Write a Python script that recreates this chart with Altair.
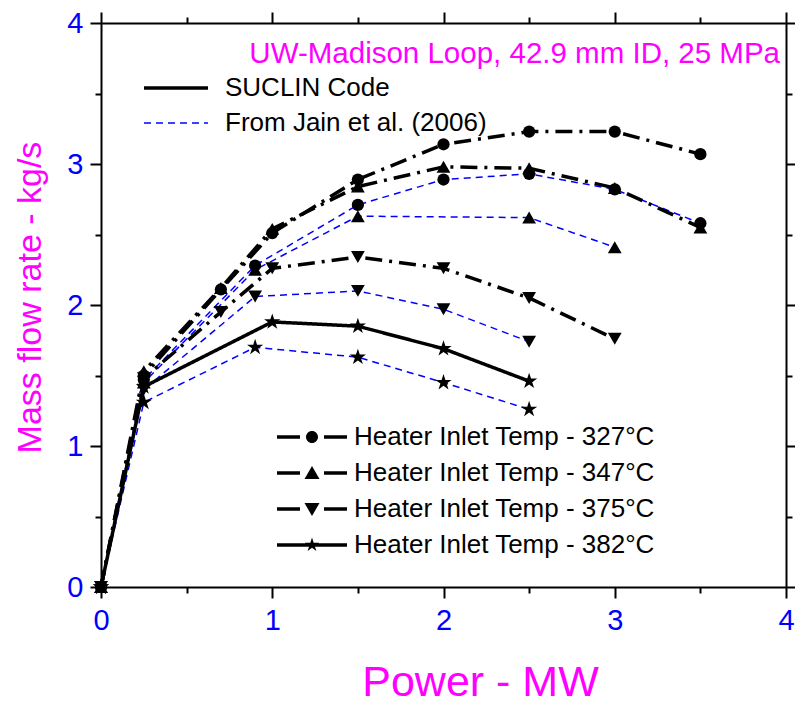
import altair as alt
import pandas as pd

FONT = "Liberation Sans"
MAGENTA = "#FF00FF"
BLUE = "#0000FF"

SRC_SUCLIN = "SUCLIN Code"
SRC_JAIN = "From Jain et al. (2006)"
sources = [SRC_SUCLIN, SRC_JAIN]

annotation = ["UW-Madison Loop, 42.9 mm ID, 25 MPa"]

temp_labels = [
    "Heater Inlet Temp - 327°C",
    "Heater Inlet Temp - 347°C",
    "Heater Inlet Temp - 375°C",
    "Heater Inlet Temp - 382°C",
]

# ---- SUCLIN code (black) ----
suclin_327_power = [0, 0.25, 0.7, 1.0, 1.5, 2.0, 2.5, 3.0, 3.5]
suclin_327_flow = [0, 1.50, 2.11, 2.51, 2.89, 3.14, 3.23, 3.23, 3.07]
suclin_347_power = [0, 0.25, 0.7, 1.0, 1.5, 2.0, 2.5, 3.0, 3.5]
suclin_347_flow = [0, 1.53, 2.12, 2.54, 2.84, 2.98, 2.97, 2.83, 2.55]
suclin_375_power = [0, 0.25, 0.7, 1.0, 1.5, 2.0, 2.5, 3.0]
suclin_375_flow = [0, 1.48, 1.95, 2.26, 2.34, 2.26, 2.05, 1.76]
suclin_382_power = [0, 0.25, 1.0, 1.5, 2.0, 2.5]
suclin_382_flow = [0, 1.42, 1.88, 1.85, 1.69, 1.46]

# ---- Jain et al. (2006) (blue dashed) ----
jain_327_power = [0, 0.25, 0.9, 1.5, 2.0, 2.5, 3.0, 3.5]
jain_327_flow = [0, 1.47, 2.28, 2.71, 2.89, 2.93, 2.82, 2.58]
jain_347_power = [0, 0.25, 0.9, 1.5, 2.5, 3.0]
jain_347_flow = [0, 1.45, 2.25, 2.63, 2.62, 2.41]
jain_375_power = [0, 0.25, 0.9, 1.5, 2.0, 2.5]
jain_375_flow = [0, 1.40, 2.06, 2.10, 1.97, 1.74]
jain_382_power = [0, 0.25, 0.9, 1.5, 2.0, 2.5]
jain_382_flow = [0, 1.31, 1.70, 1.63, 1.45, 1.26]

major_ticks = [0, 1, 2, 3, 4]
minor_ticks = [0.5, 1.5, 2.5, 3.5]

rows = []
for src, t, pw, fl in [
    (SRC_SUCLIN, temp_labels[0], suclin_327_power, suclin_327_flow),
    (SRC_SUCLIN, temp_labels[1], suclin_347_power, suclin_347_flow),
    (SRC_SUCLIN, temp_labels[2], suclin_375_power, suclin_375_flow),
    (SRC_SUCLIN, temp_labels[3], suclin_382_power, suclin_382_flow),
    (SRC_JAIN, temp_labels[0], jain_327_power, jain_327_flow),
    (SRC_JAIN, temp_labels[1], jain_347_power, jain_347_flow),
    (SRC_JAIN, temp_labels[2], jain_375_power, jain_375_flow),
    (SRC_JAIN, temp_labels[3], jain_382_power, jain_382_flow),
]:
    for p, f in zip(pw, fl):
        rows.append({"power": p, "flow": f, "temp": t, "source": src})
df = pd.DataFrame(rows)

# plot marker: five-pointed star
STAR = ("M0,-1L0.223,-0.307L0.951,-0.309L0.361,0.117L0.588,0.809L0,0.38"
        "L-0.588,0.809L-0.361,0.117L-0.951,-0.309L-0.223,-0.307Z")
# legend symbols (line + marker), all filled shapes; 10 px per unit at size 400
DASHES = "M-3.5,-0.17H-1.2V0.17H-3.5ZM1.2,-0.17H3.5V0.17H1.2Z"
LEG_CIRCLE = DASHES + "M-0.6,0A0.6,0.6 0 1,0 0.6,0A0.6,0.6 0 1,0 -0.6,0Z"
LEG_UP = DASHES + "M-0.75,0.6L0.75,0.6L0,-0.7Z"
LEG_DOWN = DASHES + "M-0.75,-0.6L0.75,-0.6L0,0.7Z"
LEG_STAR = ("M-3.5,-0.17H3.5V0.17H-3.5Z"
            "M0,-0.75L0.167,-0.23L0.713,-0.232L0.271,0.088L0.441,0.607L0,0.285"
            "L-0.441,0.607L-0.271,0.088L-0.713,-0.232L-0.167,-0.23Z")
SRC_SYMBOL = "M-3.2,0H3.2"

x_scale = alt.Scale(domain=[0, 4], nice=False, zero=False)
y_scale = alt.Scale(domain=[0, 4], nice=False, zero=False)


def ax(orient, values, size, labels=False, title=None, **kw):
    return alt.Axis(orient=orient, values=values, tickSize=size, labels=labels,
                    title=title, grid=False, domain=(size > 8), labelFlush=False, **kw)


x_bottom = ax("bottom", major_ticks, 11, labels=True, title="Power - MW",
              titleFontSize=43, titlePadding=26, labelPadding=8, titleX=379)
x_bottom_minor = ax("bottom", minor_ticks, 6)
x_top = ax("top", major_ticks, 11)
x_top_minor = ax("top", minor_ticks, 6)
y_left = ax("left", major_ticks, 11, labels=True, title="Mass flow rate - kg/s",
            titleFontSize=34, titlePadding=19, labelPadding=7, titleY=274)
y_left_minor = ax("left", minor_ticks, 6)
y_right = ax("right", major_ticks, 11)
y_right_minor = ax("right", minor_ticks, 6)


def XY(xa=None, ya=None):
    return (alt.X("power:Q", scale=x_scale, axis=xa),
            alt.Y("flow:Q", scale=y_scale, axis=ya))


src_legend = alt.Legend(
    orient="none", legendX=62, legendY=52, title=None,
    symbolType=SRC_SYMBOL, symbolSize=400, labelFontSize=26, labelFont=FONT,
    labelColor="black", labelOffset=36, rowPadding=9, labelLimit=0,
)
color_enc = alt.Color("source:N", scale=alt.Scale(domain=sources, range=["black", BLUE]),
                      legend=src_legend)
width_enc = alt.StrokeWidth("source:N", scale=alt.Scale(domain=sources, range=[3.5, 1.5]),
                            legend=src_legend)
dash_enc = alt.StrokeDash("source:N", scale=alt.Scale(domain=sources, range=[[1, 0], [7, 5]]),
                          legend=src_legend)

base = alt.Chart(df)

x1, y1 = XY(x_bottom, y_left)
jain_lines = base.transform_filter(alt.datum.source == SRC_JAIN).mark_line().encode(
    x=x1, y=y1, color=color_enc, strokeWidth=width_enc, strokeDash=dash_enc, detail="temp:N"
)
x2, y2 = XY(x_bottom_minor, y_left_minor)
suclin_dashdot = base.transform_filter(
    (alt.datum.source == SRC_SUCLIN) & (alt.datum.temp != temp_labels[3])
).mark_line(strokeDash=[17, 7, 3, 7]).encode(
    x=x2, y=y2, color=color_enc, strokeWidth=width_enc, detail="temp:N"
)
x3, y3 = XY(x_top, y_right)
suclin_solid = base.transform_filter(
    (alt.datum.source == SRC_SUCLIN) & (alt.datum.temp == temp_labels[3])
).mark_line().encode(
    x=x3, y=y3, color=color_enc, strokeWidth=width_enc, strokeDash=dash_enc, detail="temp:N"
)

marker_specs = [
    (temp_labels[0], "circle", 150, XY(x_top_minor, y_right_minor)),
    (temp_labels[1], "triangle-up", 190, XY()),
    (temp_labels[2], "triangle-down", 190, XY()),
    (temp_labels[3], STAR, 290, XY()),
]
marker_layers = [
    base.transform_filter(alt.datum.temp == t).mark_point(
        shape=shp, size=sz, filled=True, color="black", opacity=1
    ).encode(x=xy[0], y=xy[1])
    for t, shp, sz, xy in marker_specs
]

temp_legend = alt.Legend(
    orient="none", legendX=198, legendY=401, title=None,
    symbolSize=400, symbolFillColor="black", symbolStrokeWidth=0, symbolOpacity=1,
    labelFontSize=26, labelFont=FONT, labelColor="black", labelOffset=29,
    rowPadding=10, labelLimit=0,
)
xp, yp = XY()
legend_proxy = base.mark_point(filled=True, color="black", opacity=0, size=400).encode(
    x=xp, y=yp,
    shape=alt.Shape("temp:N", scale=alt.Scale(domain=temp_labels,
                    range=[LEG_CIRCLE, LEG_UP, LEG_DOWN, LEG_STAR]), legend=temp_legend),
)

note = alt.Chart(pd.DataFrame({"note": annotation})).mark_text(
    align="right", baseline="alphabetic", font=FONT, fontSize=29.5, color=MAGENTA
).encode(x=alt.value(679), y=alt.value(40), text="note:N")

chart = alt.layer(
    jain_lines, suclin_dashdot, suclin_solid, *marker_layers, legend_proxy, note
).resolve_axis(x="independent", y="independent").properties(
    width=685, height=564,
    autosize=alt.AutoSizeParams(type="none"),
    padding={"left": 101, "top": 23, "right": 9, "bottom": 117},
).configure(background="white").configure_view(stroke=None).configure_axis(
    domainColor="black", domainWidth=2, tickColor="black", tickWidth=2,
    labelColor=BLUE, labelFontSize=29, labelFont=FONT,
    titleColor=MAGENTA, titleFont=FONT, titleFontWeight="normal",
)

chart.save("out.html", embed_options={"renderer": "svg", "actions": False})
